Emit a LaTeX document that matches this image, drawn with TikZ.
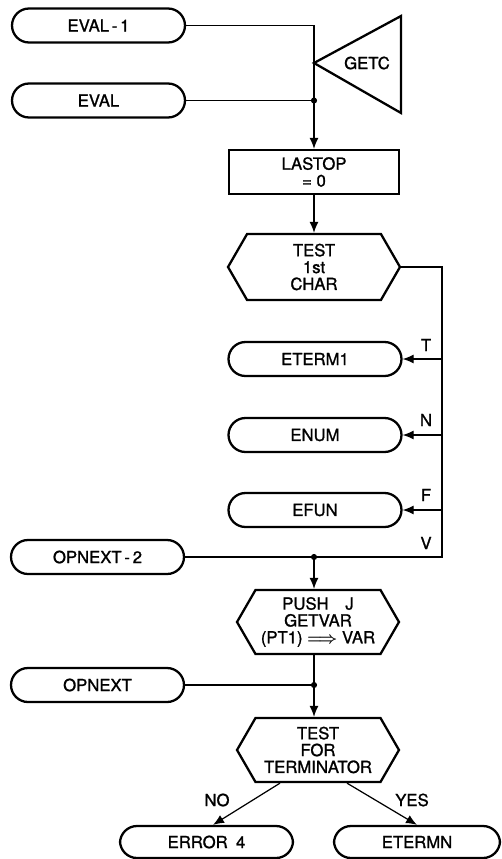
\documentclass[tikz,border=0pt]{standalone}
\usepackage{fontspec}
\setmainfont{TeX Gyre Heros}[FakeBold=1.2]
\usepackage{amsmath}
\usepackage{tikz}
\usetikzlibrary{arrows.meta,shapes,positioning}
\tikzstyle{connector} = [line width=0.7pt, color=black]
\tikzstyle{arrow} = [line width=0.7pt, -{Latex[length=2.2mm,width=1.8mm]}]
\tikzstyle{termbox} = [rectangle, rounded corners=0.34cm, minimum width=3.46cm, minimum height=0.68cm, text centered, draw, line width=1.3pt]
\tikzstyle{procbox} = [rectangle, minimum width=3.4cm, minimum height=0.88cm, text centered, align=center, draw, line width=1.3pt]
\tikzstyle{testbox} = [signal, signal to=west and east, signal from=nowhere, signal pointer angle=120, minimum width=3.44cm, minimum height=1.32cm, inner sep=0pt, align=center, draw, line width=1.3pt]
\tikzstyle{junction} = [circle, fill, inner sep=0pt, minimum size=3.5pt]
\tikzstyle{branchlabel} = [inner sep=0pt]

\begin{document}
\begin{tikzpicture}[x=0.02cm, y=-0.02cm, font=\fontsize{9.5}{9.6}\selectfont]
\useasboundingbox (0,0) rectangle (501,859);

% Entries
\node[termbox] (eval1) at (98.5,25.5) {EVAL\,-\,1};
\node[termbox] (eval) at (98.5,100.5) {EVAL};

% GETC
\coordinate (getctip) at (314,63);
\draw[line width=1.3pt] (getctip) -- (401,16) -- (401,113) -- cycle;
\node (getc) at (367,63) {GETC};

% Init
\node[procbox] (lastop) at (314,172) {LASTOP\\= 0};
\coordinate (evaljoin) at (314,100.5);
\draw[connector] (eval1.east) -| (evaljoin);
\draw[connector] (eval.east) -- (evaljoin);
\node[junction] at (evaljoin) {};
\draw[arrow] (evaljoin) -- (lastop.north);

% First character
\node[testbox] (test1) at (314,267) {TEST\\1st\\CHAR};
\draw[arrow] (lastop.south) -- (test1.north);

\node[termbox] (eterm1) at (315,359) {ETERM1};
\node[termbox] (enum) at (315,435) {ENUM};
\node[termbox] (efun) at (315,510) {EFUN};
\node[termbox] (opnext2) at (97.5,557) {OPNEXT\,-\,2};

\coordinate (bus) at (442,267);
\coordinate (vjoin) at (314,557);
\draw[connector] (test1.east) -- (bus) |- (vjoin);
\draw[connector] (opnext2.east) -- (vjoin);
\node[junction] at (vjoin) {};
\draw[arrow] (bus |- eterm1) -- (eterm1.east);
\draw[arrow] (bus |- enum) -- (enum.east);
\draw[arrow] (bus |- efun) -- (efun.east);

\node[branchlabel] (tlbl) at (426,345) {T};
\node[branchlabel] (nlbl) at (426,420) {N};
\node[branchlabel] (flbl) at (426,495) {F};
\node[branchlabel] (vlbl) at (426,543) {V};

% Variable
\node[testbox, minimum width=3.24cm, minimum height=1.28cm] (pushj) at (318,622) {PUSH\quad J\\GETVAR\\(PT1) $\boldsymbol{\Longrightarrow}$ VAR};
\draw[arrow] (vjoin) -- (vjoin |- pushj.north);

\node[termbox] (opnext) at (97.5,685) {OPNEXT};
\coordinate (ojoin) at (314,685);
\draw[connector] (pushj.south -| ojoin) -- (ojoin);
\draw[connector] (opnext.east) -- (ojoin);
\node[junction] at (ojoin) {};

% Terminator
\node[testbox, minimum width=3.24cm, minimum height=1.28cm] (testterm) at (318,750) {TEST\\FOR\\TERMINATOR};
\draw[arrow] (ojoin) -- (ojoin |- testterm.north);

% Exits
\node[termbox, minimum height=0.64cm] (error4) at (206.5,842) {ERROR\enspace 4};
\node[termbox, minimum width=3.32cm, minimum height=0.64cm] (etermn) at (417,842) {ETERMN};
\draw[arrow] ([xshift=-0.76cm]testterm.south) -- ([xshift=0.13cm]error4.north);
\draw[arrow] ([xshift=0.58cm]testterm.south) -- (etermn.north);
\node[branchlabel] (nolbl) at (217,800) {NO};
\node[branchlabel] (yeslbl) at (412,800) {YES};
\end{tikzpicture}
\end{document}
